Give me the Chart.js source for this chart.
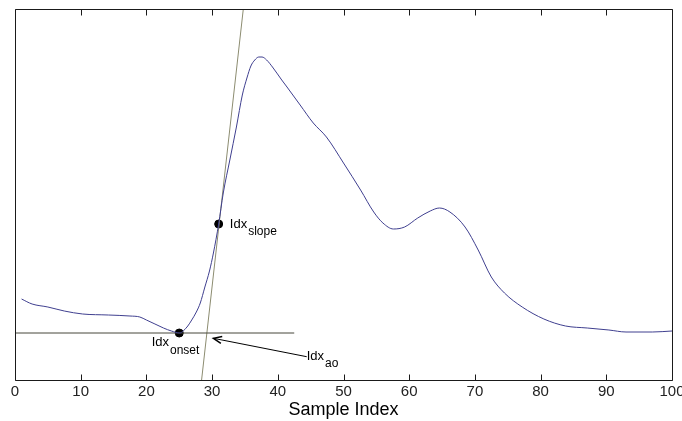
<!DOCTYPE html>
<html><head><meta charset="utf-8">
<script src="https://cdn.jsdelivr.net/npm/chart.js@4/dist/chart.umd.min.js"></script>
<style>html,body{margin:0;padding:0;background:#fff;}canvas{display:block;}</style>
</head><body>
<canvas id="c" width="682" height="421"></canvas>
<script>
// ---- data ----
const sampleX = [1, 2.6, 5, 7.5, 10.3, 14.2, 17.5, 19, 20, 21.3, 22.6, 23.8, 25.1, 25.6, 26.3, 26.9, 27.6, 28.2, 28.9, 29.6, 30.2, 31.0, 31.7, 32.7, 33.7, 34.6, 35.3, 35.9, 36.5, 37.1, 37.6, 38.3, 39.3, 40.6, 41.4, 43.4, 45.4, 47.4, 50, 52.6, 54.6, 56, 57.6, 59.3, 61.3, 63.2, 64.6, 66.2, 68.5, 70.5, 72.5, 74.5, 77.2, 80.5, 83.8, 87.1, 90.4, 93, 97, 100];
const signalY = [81, 76, 73, 69, 66, 65, 64, 63, 60, 56, 52, 49, 47, 49, 54, 60, 68, 77, 93, 109, 127, 156, 187, 220, 253, 285, 302, 314, 320, 323, 323, 320, 312, 300, 293, 275, 257, 243, 217, 190, 168, 157, 151, 153, 162, 169, 172, 168, 153, 130, 103, 87, 73, 61, 54, 52, 50, 48, 48, 49];
const baselineX = [0, 42.5];
const baselineY = [47, 47];
const tangentX = [28.4, 34.75];
const tangentY = [0, 371];
const markerX = [25, 31];
const markerY = [47, 156];
const labelMain = ['Idx', 'Idx', 'Idx'];
const labelSub = ['slope', 'onset', 'ao'];
const labelX = [32.7, 20.8, 44.4];
const labelY = [156, 37.5, 24];
const arrowFrom = [44.4, 23.3];
const arrowTo = [30.2, 41.7];
const xTickValues = [0, 10, 20, 30, 40, 50, 60, 70, 80, 90, 100];
const xTitle = 'Sample Index';

const FONT = '"Liberation Sans", Arial, Helvetica, sans-serif';
const pts = (xs, ys) => xs.map((x, i) => ({x, y: ys[i]}));

const annot = {
  id: 'annot',
  afterDatasetsDraw(chart) {
    const {ctx, chartArea: a, scales: {x, y}} = chart;
    ctx.save();
    // arrow
    const x0 = x.getPixelForValue(arrowFrom[0]), y0 = y.getPixelForValue(arrowFrom[1]);
    const x1 = x.getPixelForValue(arrowTo[0]), y1 = y.getPixelForValue(arrowTo[1]);
    ctx.strokeStyle = '#000'; ctx.lineWidth = 1;
    ctx.beginPath(); ctx.moveTo(x0, y0); ctx.lineTo(x1, y1); ctx.stroke();
    const ang = Math.atan2(y0 - y1, x0 - x1);
    ctx.lineWidth = 1.5;
    ctx.beginPath();
    ctx.moveTo(x1 + 9 * Math.cos(ang + 0.4), y1 + 9 * Math.sin(ang + 0.4));
    ctx.lineTo(x1, y1);
    ctx.lineTo(x1 + 9 * Math.cos(ang - 0.4), y1 + 9 * Math.sin(ang - 0.4));
    ctx.stroke();
    // labels
    ctx.fillStyle = '#000'; ctx.textBaseline = 'middle'; ctx.textAlign = 'left';
    for (let i = 0; i < labelMain.length; i++) {
      const px = x.getPixelForValue(labelX[i]), py = y.getPixelForValue(labelY[i]);
      ctx.font = '13px ' + FONT;
      ctx.fillText(labelMain[i], px, py);
      const w = ctx.measureText(labelMain[i]).width;
      ctx.font = '12px ' + FONT;
      ctx.fillText(labelSub[i], px + w + 1, py + 8);
    }
    ctx.restore();
  },
  afterDraw(chart) {
    const {ctx, chartArea: a, scales: {x}} = chart;
    ctx.save();
    ctx.strokeStyle = '#1a1a1a'; ctx.lineWidth = 1;
    const L = Math.round(a.left) + 0.5, R = Math.round(a.right) + 0.5;
    const T = Math.round(a.top) + 0.5, B = Math.round(a.bottom) + 0.5;
    ctx.beginPath();
    ctx.rect(L, T, R - L, B - T);
    xTickValues.forEach(v => {
      const px = Math.round(x.getPixelForValue(v)) + 0.5;
      ctx.moveTo(px, B); ctx.lineTo(px, B - 6);
      ctx.moveTo(px, T); ctx.lineTo(px, T + 6);
    });
    ctx.stroke();
    ctx.restore();
  }
};

new Chart(document.getElementById('c'), {
  type: 'scatter',
  data: {
    datasets: [
      {data: pts(sampleX, signalY), showLine: true, borderColor: '#3f3f8f', borderWidth: 1, pointRadius: 0, cubicInterpolationMode: 'monotone'},
      {data: pts(baselineX, baselineY), showLine: true, borderColor: '#46463a', borderWidth: 1, pointRadius: 0},
      {data: pts(tangentX, tangentY), showLine: true, borderColor: '#8c8c70', borderWidth: 1, pointRadius: 0},
      {data: pts(markerX, markerY), showLine: false, pointRadius: 4, pointBackgroundColor: '#000', pointBorderColor: '#000', pointBorderWidth: 1}
    ]
  },
  options: {
    responsive: false, animation: false, devicePixelRatio: 1,
    layout: {padding: {left: 15, right: 10, top: 9, bottom: 0}},
    plugins: {legend: {display: false}, tooltip: {enabled: false}},
    scales: {
      x: {
        type: 'linear', min: 0, max: 100, position: 'bottom',
        afterBuildTicks(s) { s.ticks = xTickValues.map(v => ({value: v})); },
        afterFit(s) { s.height = 41; s.paddingLeft = 0; s.paddingRight = 0; },
        grid: {display: false, drawTicks: false},
        border: {display: false},
        ticks: {autoSkip: false, maxRotation: 0, padding: 3, color: '#222', font: {family: FONT, size: 15}},
        title: {display: true, text: xTitle, color: '#000', font: {family: FONT, size: 18}, padding: {top: 0, bottom: 0}}
      },
      y: {type: 'linear', min: 0, max: 371, display: false}
    }
  },
  plugins: [annot]
});
</script>
</body></html>
